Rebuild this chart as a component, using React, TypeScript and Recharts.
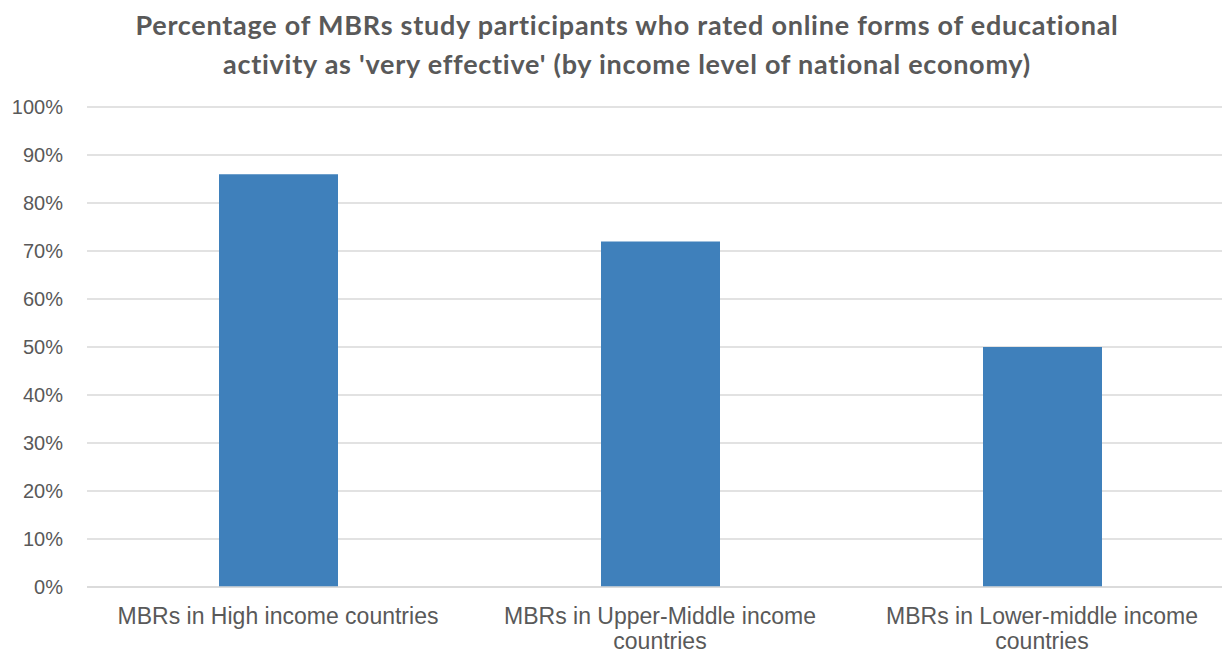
import { BarChart, Bar, XAxis, YAxis, CartesianGrid } from 'recharts';

const categories = [
  'MBRs in High income countries',
  'MBRs in Upper-Middle income countries',
  'MBRs in Lower-middle income countries',
];
const veryEffective = [86, 72, 50];
const yTicks = [0, 10, 20, 30, 40, 50, 60, 70, 80, 90, 100];
const titleLines = [
  'Percentage of MBRs study participants who rated online forms of educational',
  "activity as 'very effective' (by income level of national economy)",
];

const data = categories.map((name, i) => ({ name, value: veryEffective[i] }));

const textColor = '#595959';
const gridColor = '#d9d9d9';

// break a label into lines of at most maxChars
function wrapWords(label: string, maxChars: number) {
  const lines: string[] = [];
  let cur = '';
  for (const word of label.split(' ')) {
    const next = cur ? cur + ' ' + word : word;
    if (next.length > maxChars && cur) {
      lines.push(cur);
      cur = word;
    } else {
      cur = next;
    }
  }
  if (cur) lines.push(cur);
  return lines;
}

function CategoryTick(props: any) {
  const { x, y, payload } = props;
  const lines = wrapWords(payload.value, 30);
  return (
    <text
      x={x}
      y={y}
      textAnchor="middle"
      fill={textColor}
      style={{ fontFamily: '"Liberation Sans", Arial, sans-serif', fontSize: 23 }}
    >
      {lines.map((line, i) => (
        <tspan key={i} x={x} dy={i === 0 ? 16 : 25}>
          {line}
        </tspan>
      ))}
    </text>
  );
}

export default function App() {
  return (
    <div
      style={{
        position: 'absolute',
        left: 0,
        top: 0,
        width: 1222,
        height: 653,
        overflow: 'hidden',
        background: '#fff',
      }}
    >
      {titleLines.map((line, i) => (
        <div
          key={i}
          style={{
            position: 'absolute',
            left: 0,
            width: 1254,
            top: 10 + i * 39,
            textAlign: 'center',
            fontFamily: 'Lato, sans-serif',
            fontWeight: 700,
            fontSize: 27,
            letterSpacing: 0.75,
            lineHeight: '30px',
            color: textColor,
            whiteSpace: 'nowrap',
          }}
        >
          {line}
        </div>
      ))}
      <BarChart
        width={1240}
        height={653}
        data={data}
        margin={{ top: 107, right: 7, left: 0, bottom: 0 }}
        barSize={119}
      >
        <CartesianGrid stroke={gridColor} strokeWidth={1.5} vertical={false} />
        <XAxis
          dataKey="name"
          height={66}
          tickLine={false}
          axisLine={{ stroke: gridColor, strokeWidth: 1.5 }}
          tickMargin={15}
          interval={0}
          tick={<CategoryTick />}
        />
        <YAxis
          width={87}
          domain={[0, 100]}
          ticks={yTicks}
          interval={0}
          tickLine={false}
          axisLine={false}
          tickMargin={18}
          tickFormatter={(v: number) => `${v}%`}
          tick={{ fill: textColor, fontSize: 20, fontFamily: '"Liberation Sans", Arial, sans-serif' }}
        />
        <Bar dataKey="value" fill="#3f80bb" isAnimationActive={false} />
      </BarChart>
    </div>
  );
}
